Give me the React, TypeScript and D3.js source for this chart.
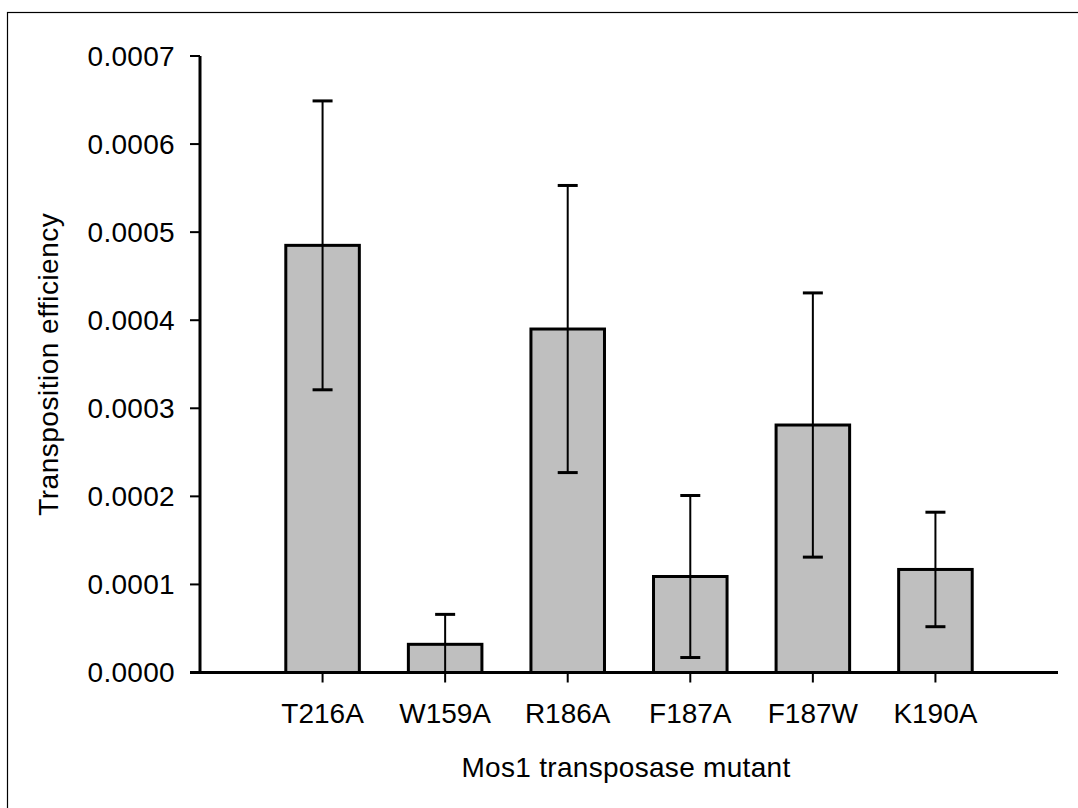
import React from "react";
import * as d3 from "d3";

const categories = ["T216A", "W159A", "R186A", "F187A", "F187W", "K190A"];
const means = [0.000485, 0.000032, 0.00039, 0.000109, 0.000281, 0.000117];
const errors = [0.000164, 0.000034, 0.000163, 0.000092, 0.00015, 0.000065];
const yTicks = [0, 0.0001, 0.0002, 0.0003, 0.0004, 0.0005, 0.0006, 0.0007];

const W = 1078;
const H = 808;
const left = 200;
const right = 1058;
const top = 56;
const bottom = 672.5;
const font = "'Liberation Sans', Arial, sans-serif";

export default function App() {
  const x = d3.scaleLinear().domain([0, 7]).range([left, right]);
  const y = d3.scaleLinear().domain([0, 0.0007]).range([bottom, top]);
  const barW = x(0.6) - x(0);
  const capW = 20;
  return (
    <svg
      width={W}
      height={H}
      style={{ position: "absolute", left: 0, top: 0, background: "#fff" }}
    >
      <rect x={7.5} y={12.5} width={W + 20} height={H + 20} fill="none" stroke="#000" strokeWidth={1.2} />
      {categories.map((c, i) => {
        const cx = x(i + 1);
        const m = means[i];
        const e = errors[i];
        return (
          <g key={c}>
            <rect
              x={cx - barW / 2}
              y={y(m)}
              width={barW}
              height={y(0) - y(m)}
              fill="#bfbfbf"
              stroke="#000"
              strokeWidth={3}
            />
            <line x1={cx} x2={cx} y1={y(m + e)} y2={y(Math.max(0, m - e))} stroke="#000" strokeWidth={2} />
            <line x1={cx - capW / 2} x2={cx + capW / 2} y1={y(m + e)} y2={y(m + e)} stroke="#000" strokeWidth={3} />
            {m - e > 0.000005 && (
              <line x1={cx - capW / 2} x2={cx + capW / 2} y1={y(m - e)} y2={y(m - e)} stroke="#000" strokeWidth={3} />
            )}
            <line x1={cx} x2={cx} y1={bottom} y2={bottom + 10} stroke="#000" strokeWidth={2} />
            <text
              x={cx}
              y={722.5}
              textAnchor="middle"
              fontFamily={font}
              fontSize={28}
              fill="#000"
            >
              {c}
            </text>
          </g>
        );
      })}
      {/* y axis */}
      <line x1={left} x2={left} y1={top} y2={bottom} stroke="#000" strokeWidth={3} />
      {yTicks.map((t) => (
        <g key={t}>
          <line x1={left - 10} x2={left} y1={y(t)} y2={y(t)} stroke="#000" strokeWidth={2} />
          <text
            x={left - 25}
            y={y(t)}
            dy="0.35em"
            textAnchor="end"
            fontFamily={font}
            fontSize={28}
            letterSpacing={0.3}
            fill="#000"
          >
            {t.toFixed(4)}
          </text>
        </g>
      ))}
      {/* x axis */}
      <line x1={left - 10} x2={right} y1={bottom} y2={bottom} stroke="#000" strokeWidth={3} />
      <text
        x={(left + right) / 2 - 3}
        y={777}
        textAnchor="middle"
        fontFamily={font}
        fontSize={28}
        letterSpacing={0.3}
        fill="#000"
      >
        Mos1 transposase mutant
      </text>
      <text
        transform={`translate(58,${(top + bottom) / 2}) rotate(-90)`}
        textAnchor="middle"
        fontFamily={font}
        fontSize={28}
        letterSpacing={0.5}
        fill="#000"
      >
        Transposition efficiency
      </text>
    </svg>
  );
}
